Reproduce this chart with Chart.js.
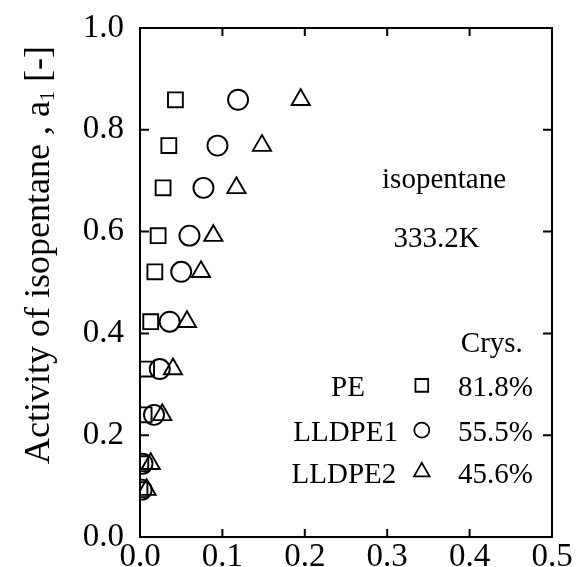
<!DOCTYPE html>
<html>
<head>
<meta charset="utf-8">
<script src="https://cdn.jsdelivr.net/npm/chart.js@4.4.1/dist/chart.umd.min.js"></script>
<style>
  html, body { margin: 0; padding: 0; background: #fff; }
</style>
</head>
<body>
<canvas id="chart" width="578" height="567"></canvas>
<script>
// activity a1 (y) for each measured point, same for all three polymers
const activity = [0.859, 0.769, 0.686, 0.592, 0.521, 0.423, 0.330, 0.240, 0.144, 0.093];
// x values
const pe     = [0.043, 0.035, 0.028, 0.022, 0.018, 0.013, 0.008, 0.005, 0.001, 0.000];
const lldpe1 = [0.119, 0.094, 0.077, 0.060, 0.050, 0.036, 0.024, 0.017, 0.003, 0.002];
const lldpe2 = [0.195, 0.148, 0.117, 0.089, 0.074, 0.057, 0.040, 0.027, 0.013, 0.008];

const seriesNames = ['PE', 'LLDPE1', 'LLDPE2'];
const crystallinity = ['81.8%', '55.5%', '45.6%'];
const xTicks = [0, 0.1, 0.2, 0.3, 0.4, 0.5];
const yTicks = [0, 0.2, 0.4, 0.6, 0.8, 1.0];

const serif = "'Liberation Serif', 'DejaVu Serif', serif";
const styles = ['rect', 'circle', 'triangle'];
const radii = [10.5, 10, 10.5];

const toPoints = xs => xs.map((v, i) => ({ x: v, y: activity[i] }));

const decorations = {
  id: 'decorations',
  afterDraw(chart) {
    const { ctx, chartArea: a, scales: { x, y } } = chart;
    ctx.save();
    ctx.strokeStyle = '#000';
    ctx.fillStyle = '#000';
    ctx.lineWidth = 2;
    ctx.strokeRect(a.left, a.top, a.right - a.left, a.bottom - a.top);

    // inward ticks on all four sides
    ctx.beginPath();
    xTicks.slice(1, -1).forEach(v => {
      const px = x.getPixelForValue(v);
      ctx.moveTo(px, a.bottom); ctx.lineTo(px, a.bottom - 8);
      ctx.moveTo(px, a.top); ctx.lineTo(px, a.top + 8);
    });
    yTicks.slice(1, -1).forEach(v => {
      const py = y.getPixelForValue(v);
      ctx.moveTo(a.left, py); ctx.lineTo(a.left + 9, py);
      ctx.moveTo(a.right, py); ctx.lineTo(a.right - 9, py);
    });
    ctx.stroke();

    // y axis title with subscript
    ctx.save();
    ctx.translate(40, 255);
    ctx.rotate(-Math.PI / 2);
    ctx.textBaseline = 'middle';
    const main = 'Activity of isopentane , a';
    const tail = ' [-]';
    ctx.font = '36px ' + serif;
    const w1 = ctx.measureText(main).width;
    const w3 = ctx.measureText(tail).width;
    ctx.font = '20px ' + serif;
    const w2 = ctx.measureText('1').width;
    let sx = -(w1 + w2 + w3) / 2;
    ctx.font = '36px ' + serif;
    ctx.textAlign = 'left';
    ctx.fillText(main, sx, 0);
    ctx.font = '20px ' + serif;
    ctx.fillText('1', sx + w1, 9);
    ctx.font = '36px ' + serif;
    ctx.fillText(tail, sx + w1 + w2, 0);
    ctx.restore();

    // annotations
    ctx.font = '29px ' + serif;
    ctx.textBaseline = 'middle';
    ctx.textAlign = 'center';
    ctx.fillText('isopentane', x.getPixelForValue(0.369), y.getPixelForValue(0.701));
    ctx.fillText('333.2K', x.getPixelForValue(0.360), y.getPixelForValue(0.585));
    ctx.fillText('Crys.', x.getPixelForValue(0.427), y.getPixelForValue(0.379));

    const rowY = [0.292, 0.204, 0.122];
    const nameRight = [0.273, 0.313, 0.311];
    seriesNames.forEach((name, i) => {
      const py = y.getPixelForValue(rowY[i]);
      ctx.fillStyle = '#000';
      ctx.textAlign = 'right';
      ctx.fillText(name, x.getPixelForValue(nameRight[i]), py);
      ctx.textAlign = 'left';
      ctx.fillText(crystallinity[i], x.getPixelForValue(0.386), py);
      ctx.lineWidth = 1.8;
      ctx.fillStyle = 'rgba(0,0,0,0)';
      Chart.helpers.drawPoint(ctx, {
        pointStyle: styles[i], radius: [9, 7.5, 9][i], rotation: 0, borderWidth: 1.8
      }, x.getPixelForValue(0.342), py - 3);
    });
    ctx.restore();
  }
};

new Chart(document.getElementById('chart').getContext('2d'), {
  type: 'scatter',
  data: {
    datasets: [pe, lldpe1, lldpe2].map((xs, i) => ({
      label: seriesNames[i],
      data: toPoints(xs),
      pointStyle: styles[i],
      radius: radii[i],
      borderColor: '#000',
      backgroundColor: 'rgba(0,0,0,0)',
      borderWidth: 1.9
    }))
  },
  options: {
    responsive: false,
    animation: false,
    layout: { padding: { top: 28, right: 26, left: 0, bottom: 0 } },
    plugins: { legend: { display: false }, tooltip: { enabled: false } },
    scales: {
      x: {
        type: 'linear', min: 0, max: 0.5,
        afterFit: s => { s.height = 30; },
        afterBuildTicks: s => { s.ticks = xTicks.map(v => ({ value: v })); },
        grid: { display: false, drawTicks: false },
        border: { display: false },
        ticks: {
          color: '#000', padding: 1, autoSkip: false, maxRotation: 0,
          font: { family: serif, size: 33 },
          callback: v => v.toFixed(1)
        }
      },
      y: {
        type: 'linear', min: 0, max: 1,
        afterFit: s => { s.width = 140; },
        afterBuildTicks: s => { s.ticks = yTicks.map(v => ({ value: v })); },
        grid: { display: false, drawTicks: false },
        border: { display: false },
        ticks: {
          color: '#000', padding: 16, autoSkip: false,
          font: { family: serif, size: 33, lineHeight: 0.4 },
          callback: v => v.toFixed(1)
        }
      }
    }
  },
  plugins: [decorations]
});
</script>
</body>
</html>
